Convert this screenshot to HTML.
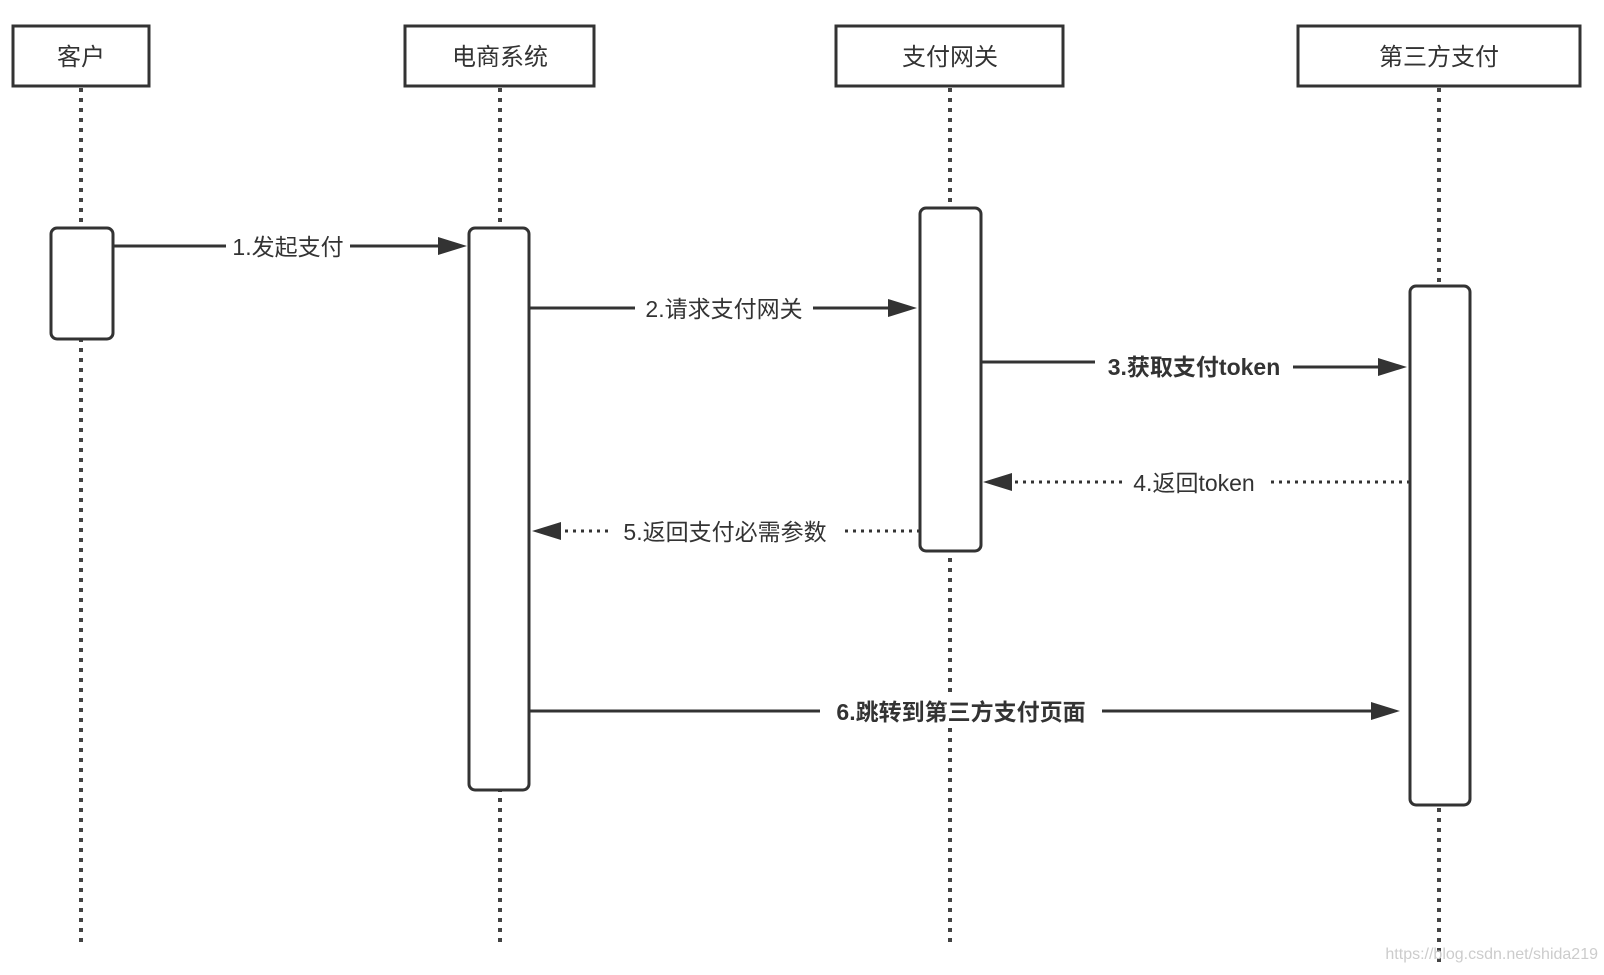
<!DOCTYPE html>
<html><head><meta charset="utf-8"><style>
html,body{margin:0;padding:0;background:#fff;}
svg text{font-family:"Liberation Sans","Noto Sans CJK SC",sans-serif;fill:#333;}
</style></head><body>
<svg width="1604" height="970" viewBox="0 0 1604 970" xmlns="http://www.w3.org/2000/svg">
<g stroke="#444" stroke-width="4" stroke-dasharray="4 6" fill="none">
<line x1="81" y1="88" x2="81" y2="942"/>
<line x1="500" y1="88" x2="500" y2="942"/>
<line x1="950" y1="88" x2="950" y2="942"/>
<line x1="1439" y1="88" x2="1439" y2="964"/>
</g>
<g stroke="#333" stroke-width="3" fill="#fff">
<rect x="13" y="26" width="136" height="60"/>
<rect x="405" y="26" width="189" height="60"/>
<rect x="836" y="26" width="227" height="60"/>
<rect x="1298" y="26" width="282" height="60"/>
<rect x="51" y="228" width="62" height="111" rx="6"/>
<rect x="469" y="228" width="60" height="562" rx="6"/>
<rect x="920" y="208" width="61" height="343" rx="6"/>
<rect x="1410" y="286" width="60" height="519" rx="6"/>
</g>
<g font-size="24" text-anchor="middle">
<text x="81" y="65">客户</text>
<text x="500" y="65">电商系统</text>
<text x="950" y="65">支付网关</text>
<text x="1439" y="65">第三方支付</text>
</g>
<g stroke="#333" stroke-width="3" fill="none">
<line x1="113" y1="246" x2="440" y2="246"/>
<line x1="529" y1="308" x2="890" y2="308"/>
<polyline points="981,362 1100,362 1100,367 1380,367"/>
<line x1="529" y1="711" x2="1375" y2="711"/>
<g stroke-dasharray="3 5">
<line x1="1410" y1="482" x2="1010" y2="482"/>
<line x1="920" y1="531" x2="560" y2="531"/>
</g>
</g>
<g fill="#333">
<polygon points="467,246 438,237 438,255"/>
<polygon points="917,308 888,299 888,317"/>
<polygon points="1407,367 1378,358 1378,376"/>
<polygon points="1400,711 1371,702 1371,720"/>
<polygon points="983,482 1012,473 1012,491"/>
<polygon points="532,531 561,522 561,540"/>
</g>
<g font-size="23" text-anchor="middle">
<rect x="226" y="230" width="124" height="32" fill="#fff"/>
<text x="288" y="255">1.发起支付</text>
<rect x="635" y="292" width="178" height="32" fill="#fff"/>
<text x="724" y="317">2.请求支付网关</text>
<rect x="1095" y="350" width="198" height="32" fill="#fff"/>
<text x="1194" y="375" font-weight="bold">3.获取支付token</text>
<rect x="1122" y="466" width="144" height="32" fill="#fff"/>
<text x="1194" y="491">4.返回token</text>
<rect x="609" y="515" width="232" height="32" fill="#fff"/>
<text x="725" y="540">5.返回支付必需参数</text>
<rect x="820" y="695" width="282" height="32" fill="#fff"/>
<text x="961" y="720" font-weight="bold">6.跳转到第三方支付页面</text>
</g>
<text x="1598" y="959" font-size="16" text-anchor="end" style="fill:#ccc">https://blog.csdn.net/shida219</text>
</svg>
</body></html>
